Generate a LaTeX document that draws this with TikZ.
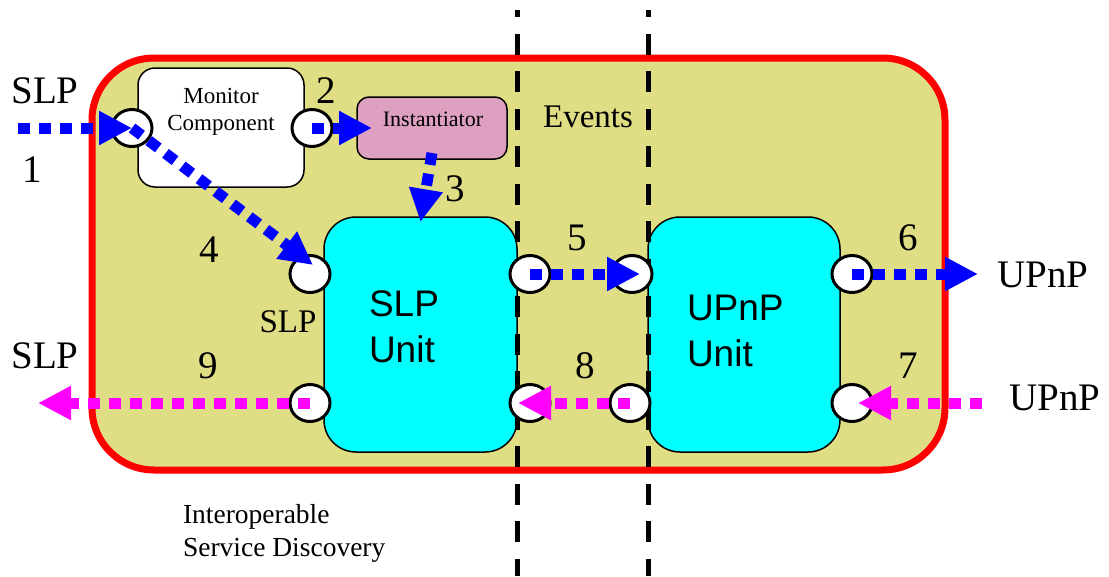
\documentclass[tikz,border=0pt]{standalone}
\usepackage{fontspec}
\setmainfont{Liberation Serif}
\newfontfamily\arialf{Liberation Sans}
\usetikzlibrary{arrows.meta,shapes.geometric}
\definecolor{khaki}{RGB}{224,222,132}
\definecolor{pinkbox}{RGB}{221,160,192}
\definecolor{cyanbox}{RGB}{0,255,255}
\definecolor{bluearr}{RGB}{0,0,255}
\definecolor{magarr}{RGB}{255,0,255}
\definecolor{redline}{RGB}{255,0,0}
\begin{document}
\begin{tikzpicture}[x=1pt,y=-1pt,
  every node/.style={inner sep=0pt,outer sep=0pt},
  lbl/.style={font=\fontsize{39}{40}\selectfont, anchor=base},
  mid/.style={font=\fontsize{33}{34}\selectfont, anchor=base},
  unitbox/.style={draw=black, line width=1.5pt, fill=cyanbox, rounded corners=32pt,
     minimum width=193pt, minimum height=235pt},
  port/.style={ellipse, draw=black, line width=3pt, fill=white,
     minimum width=40pt, minimum height=37pt},
  flowb/.style={draw=bluearr, line width=11pt, dash pattern=on 12pt off 9pt,
     -{Triangle[length=33pt,width=32pt]}},
  flowm/.style={draw=magarr, line width=11pt, dash pattern=on 12pt off 9pt,
     -{Triangle[length=33pt,width=32pt]}},
  sep/.style={draw=black, line width=5pt, dash pattern=on 21pt off 16.5pt, dash phase=14pt}
]
\useasboundingbox (0,0) rectangle (1109,576);
% main region
\node[draw=redline, line width=7pt, fill=khaki, rounded corners=62pt,
  minimum width=853pt, minimum height=412pt] (isd) at (518.5,264) {};
% units
\node[unitbox] (slp) at (420.5,334.5) {};
\node[unitbox, minimum width=192pt] (upnp) at (744,334.5) {};
\node[font=\arialf\fontsize{37}{46}\selectfont, align=left, anchor=base west] (slpt) at (369,362) {SLP\\Unit};
\node[font=\arialf\fontsize{37}{46}\selectfont, align=left, anchor=base west] (upnpt) at (687,366) {UPnP\\Unit};
% monitor and instantiator
\node[draw=black, line width=1.5pt, fill=white, rounded corners=17pt,
  minimum width=166pt, minimum height=119pt] (mon) at (221,127.5) {};
\node[font=\fontsize{23}{27}\selectfont, align=center, anchor=base] (mont) at (221,130) {Monitor\\Component};
\node[draw=black, line width=1.5pt, fill=pinkbox, rounded corners=12pt,
  minimum width=150pt, minimum height=62pt] (inst) at (432,128) {};
\node[font=\fontsize{22}{24}\selectfont, anchor=base] (instt) at (433,126) {Instantiator};
% separators
\coordinate (s1a) at (517,10); \coordinate (s1b) at (517,576);
\coordinate (s2a) at (648,10); \coordinate (s2b) at (648,576);
\draw[sep] (s1a) -- (s1b);
\draw[sep] (s2a) -- (s2b);
% ports
\node[port] (pML) at (132,128) {};
\node[port] (pMR) at (312,128) {};
\node[port] (pSLt) at (310,274) {};
\node[port] (pSLb) at (310,403) {};
\node[port] (pSRt) at (530,274) {};
\node[port] (pSRb) at (530,403) {};
\node[port] (pULt) at (632,274) {};
\node[port] (pULb) at (630,403) {};
\node[port] (pURt) at (852,274) {};
\node[port] (pURb) at (852,403) {};
% free ends
\coordinate (in1) at (18,128);
\coordinate (out6) at (978,274);
\coordinate (in7) at (982,403);
\coordinate (out9) at (38,403);
% flows
\draw[flowb] (in1) -- (pML.center);
\draw[flowb] (pMR.center) -- ([xshift=15pt]inst.west);
\draw[flowb] ([yshift=6pt]inst.south) -- ([yshift=-5pt]slp.north);
\draw[flowb] (pML.center) -- ([xshift=3pt,yshift=9pt]pSLt.center);
\draw[flowb] (pSRt.center) -- ([xshift=8pt]pULt.center);
\draw[flowb] (pURt.center) -- (out6);
\draw[flowm] (in7) -- ([xshift=6pt]pURb.center);
\draw[flowm] (pULb.center) -- ([xshift=-12pt]pSRb.center);
\draw[flowm] (pSLb.center) -- (out9);
% labels
\node[lbl] (lslp1) at (45,103) {SLP};
\node[lbl] (l1) at (32,182) {1};
\node[lbl] (l2) at (326,103) {2};
\node[lbl] (l3) at (455,201) {3};
\node[lbl] (l4) at (209,262) {4};
\node[lbl] (l5) at (577,250) {5};
\node[lbl] (l6) at (908,250) {6};
\node[lbl] (l7) at (908,378) {7};
\node[lbl] (l8) at (585,378) {8};
\node[lbl] (l9) at (208,378) {9};
\node[lbl] (lslp2) at (45,368) {SLP};
\node[mid] (lslp3) at (288,332) {SLP};
\node[lbl] (lup1) at (1043,287) {UPnP};
\node[lbl] (lup2) at (1055,410) {UPnP};
\node[mid] (lev) at (588,127) {Events};
\node[font=\fontsize{27.5}{33}\selectfont, align=left, anchor=base west] (lisd) at (183,556) {Interoperable\\Service Discovery};
\end{tikzpicture}
\end{document}
